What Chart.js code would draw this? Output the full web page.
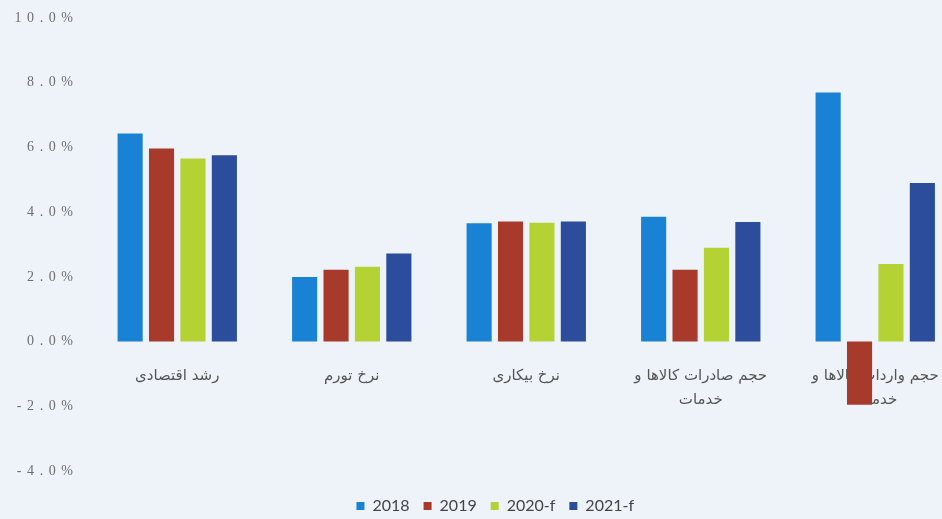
<!DOCTYPE html>
<html>
<head>
<meta charset="utf-8">
<script src="https://cdn.jsdelivr.net/npm/chart.js@4.4.1/dist/chart.umd.min.js"></script>
<style>
  html, body { margin: 0; padding: 0; overflow: hidden; background: #eef3fa; }
  canvas { display: block; margin-top: -5px; }
</style>
</head>
<body>
<canvas id="bar-chart" width="990" height="529"></canvas>
<script>
const categories = [
    "رشد اقتصادی",
    "نرخ تورم",
    "نرخ بیکاری",
    ["حجم صادرات کالاها و", "خدمات"],
    ["حجم واردات کالاها و", "خدمات"]
];
const series_labels = ["2018", "2019", "2020-f", "2021-f"];
const values_2018 = [6.43, 2.0, 3.66, 3.86, 7.7];
const values_2019 = [5.97, 2.22, 3.71, 2.22, -1.95];
const values_2020 = [5.66, 2.31, 3.67, 2.9, 2.4];
const values_2021 = [5.76, 2.72, 3.71, 3.7, 4.9];
const y_ticks = [-4, -2, 0, 2, 4, 6, 8, 10];

const bar_colours = ["#1a82d4", "#a83a2c", "#b4d234", "#2b4d9c"];
const all_values = [values_2018, values_2019, values_2020, values_2021];

let bar_sets = [];
for (let i = 0; i < series_labels.length; i++) {
    bar_sets.push({
        label: series_labels[i],
        data: all_values[i],
        backgroundColor: bar_colours[i],
        borderWidth: 0,
        categoryPercentage: 0.72,
        barPercentage: 0.8
    });
}

// spaced-out percent labels like the original axis
function spacedPercent(v) {
    return v.toFixed(1).concat("%").split("").join("\u2009\u2009");
}

// nudge the legend to the right, the original is not centred on the plot
const legendNudge = {
    id: "legendNudge",
    afterLayout(chart) {
        chart.legend.left += 14;
        chart.legend.right += 14;
    }
};

const config_bar = {
    type: "bar",
    data: { labels: categories, datasets: bar_sets },
    options: {
        responsive: false,
        animation: false,
        layout: { padding: { top: 23, right: 27.5, bottom: 0, left: 0 } },
        scales: {
            x: {
                position: { y: 0 },        // labels sit under the zero line
                grid: { display: false },
                border: { display: false },
                ticks: {
                    padding: 14,
                    maxRotation: 0,
                    autoSkip: false,
                    color: "#555",
                    font: { family: "DejaVu Sans", size: 15, lineHeight: 1.6 }
                }
            },
            y: {
                min: -4.4,
                max: 10,
                afterBuildTicks: (axis) => { axis.ticks = y_ticks.map(v => ({ value: v })); },
                afterFit: (axis) => { axis.width = 90; },
                grid: { display: false },
                border: { display: false },
                ticks: {
                    padding: 9,
                    color: "#6e6e6e",
                    font: { family: "Liberation Serif", size: 14 },
                    callback: (v) => spacedPercent(v)
                }
            }
        },
        plugins: {
            tooltip: { enabled: false },
            legend: {
                position: "bottom",
                labels: {
                    boxWidth: 8,
                    boxHeight: 8,
                    padding: 14,
                    color: "#444",
                    font: { family: "Lato", size: 16 }
                }
            }
        }
    },
    plugins: [legendNudge]
};

const bar_chart = new Chart(document.getElementById("bar-chart").getContext("2d"), config_bar);
</script>
</body>
</html>
